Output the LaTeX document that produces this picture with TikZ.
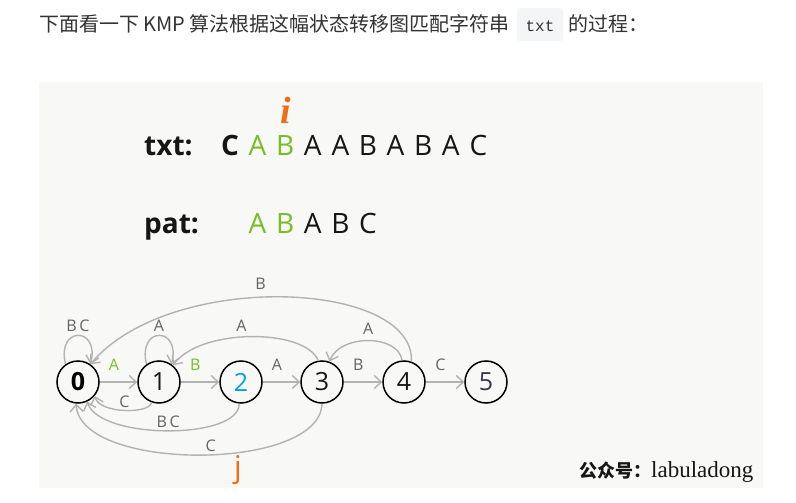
\documentclass[tikz,border=0pt]{standalone}
\usepackage{fontspec}
\usepackage{tikz}
\usetikzlibrary{arrows.meta}
\newfontfamily\diagfont{Open Sans}
\newfontfamily\cjkfont{Noto Sans CJK SC}
\newfontfamily\markfont{Liberation Serif}
\newfontfamily\codefont{Liberation Mono}
\definecolor{bgc}{RGB}{248,248,247}
\definecolor{ink}{RGB}{22,22,22}
\definecolor{okgreen}{RGB}{118,190,36}
\definecolor{curblue}{RGB}{0,160,233}
\definecolor{endslate}{RGB}{55,55,75}
\definecolor{arcgray}{RGB}{178,178,176}
\definecolor{lblgray}{RGB}{100,100,100}
\definecolor{markorange}{RGB}{242,108,20}
\definecolor{headgray}{RGB}{51,51,51}
\definecolor{codebg}{RGB}{244,245,247}
\newcommand{\sz}[1]{\fontsize{#1}{#1}\selectfont}

\begin{document}
\begin{tikzpicture}[x=1pt,y=-1pt,
    state/.style={circle,draw=black,line width=1.5pt,fill=bgc,minimum size=42pt,inner sep=0pt,font=\diagfont\sz{25}},
    edgeline/.style={draw=arcgray,line width=1.4pt,-{Straight Barb[length=7pt,width=13pt]}},
    lbl/.style={text=lblgray,inner sep=1pt,font=\diagfont\sz{16}},
    letter/.style={anchor=base,inner sep=0pt,font=\diagfont\sz{28},text=ink}]
\useasboundingbox (0,0) rectangle (796,503);
\fill[white] (0,0) rectangle (796,503);
\fill[bgc] (39,82) rectangle (763,488);

% header line
\node[anchor=base west,inner sep=0pt,text=headgray,font=\cjkfont\sz{20}] (head) at (39,32) {下面看一下 KMP 算法根据这幅状态转移图匹配字符串};
\fill[codebg,rounded corners=3pt] (517,8) rectangle (563,41);
\node[anchor=base,inner sep=0pt,text=headgray,font=\codefont\sz{16}] (code) at (540,32) {txt};
\node[anchor=base west,inner sep=0pt,text=headgray,font=\cjkfont\sz{20}] (tail) at (568,32) {的过程：};

% strings
\node[anchor=base west,inner sep=0pt,font=\diagfont\bfseries\sz{28},text=ink] (txtname) at (144,155) {txt:};
\node[anchor=base west,inner sep=0pt,font=\diagfont\bfseries\sz{28},text=ink] (patname) at (144,233) {pat:};
\node[letter,font=\diagfont\bfseries\sz{28}] (t0) at (230,155) {C};
\foreach \ch/\k/\c in {A/1/okgreen,B/2/okgreen,A/3/ink,A/4/ink,B/5/ink,A/6/ink,B/7/ink,A/8/ink,C/9/ink}
    \node[letter,text=\c] (t\k) at ({230+27.6*\k},155) {\ch};
\foreach \ch/\k/\c in {A/1/okgreen,B/2/okgreen,A/3/ink,B/4/ink,C/5/ink}
    \node[letter,text=\c] (p\k) at ({230+27.6*\k},233) {\ch};
\node[text=markorange,font=\markfont\bfseries\itshape\sz{38}] (imark) at (286,110) {i};
\node[text=markorange,font=\diagfont\sz{30}] (jmark) at (238,470) {j};

% states
\node[state,font=\diagfont\bfseries\sz{25}] (s0) at (78,382) {0};
\foreach \n/\x/\c in {1/159/ink,2/241/curblue,3/322/ink,4/404/ink,5/486/endslate}
    \node[state,text=\c] (s\n) at (\x,382) {\n};

% forward edges
\draw[edgeline] (s0) -- (s1) node[lbl,pos=.38,above=10pt,text=okgreen] {A};
\draw[edgeline] (s1) -- (s2) node[lbl,pos=.38,above=10pt,text=okgreen] {B};
\draw[edgeline] (s2) -- (s3) node[lbl,pos=.38,above=10pt] {A};
\draw[edgeline] (s3) -- (s4) node[lbl,pos=.38,above=10pt] {B};
\draw[edgeline] (s4) -- (s5) node[lbl,pos=.38,above=10pt] {C};

% self loops
\draw[edgeline] (s0.125) .. controls (56,326) and (100,326) .. (s0.55) node[lbl,pos=.5,above=2pt] {B\,C};
\draw[edgeline] (s1.125) .. controls (137,326) and (181,326) .. (s1.55) node[lbl,pos=.5,above=2pt] {A};

% back edges above
\draw[edgeline] (s4.70) .. controls (415,280) and (170,270) .. (s0.55) node[lbl,pos=.55,above=6pt] {B};
\draw[edgeline] (s3.100) .. controls (305,328) and (200,328) .. (s1.50) node[lbl,pos=.55,above=4pt] {A};
\draw[edgeline] (s4.95) .. controls (398,334) and (340,334) .. (s3.70) node[lbl,pos=.5,above=5pt] {A};

% back edges below
\draw[edgeline] (s1.-110) .. controls (150,414) and (100,414) .. (s0.-40) node[lbl,pos=.5,above=1pt] {C};
\draw[edgeline] (s2.-95) .. controls (240,440) and (100,440) .. (s0.-65) node[lbl,pos=.5,above=1pt] {B\,C};
\draw[edgeline] (s3.-90) .. controls (320,472) and (80,472) .. (s0.-95) node[lbl,pos=.47,above=1pt] {C};

% watermark
\node[anchor=base west,inner sep=0pt,text=ink] (sign) at (579,477) {{\cjkfont\bfseries\sz{18}公众号：}{\markfont\sz{23}labuladong}};
\end{tikzpicture}
\end{document}
